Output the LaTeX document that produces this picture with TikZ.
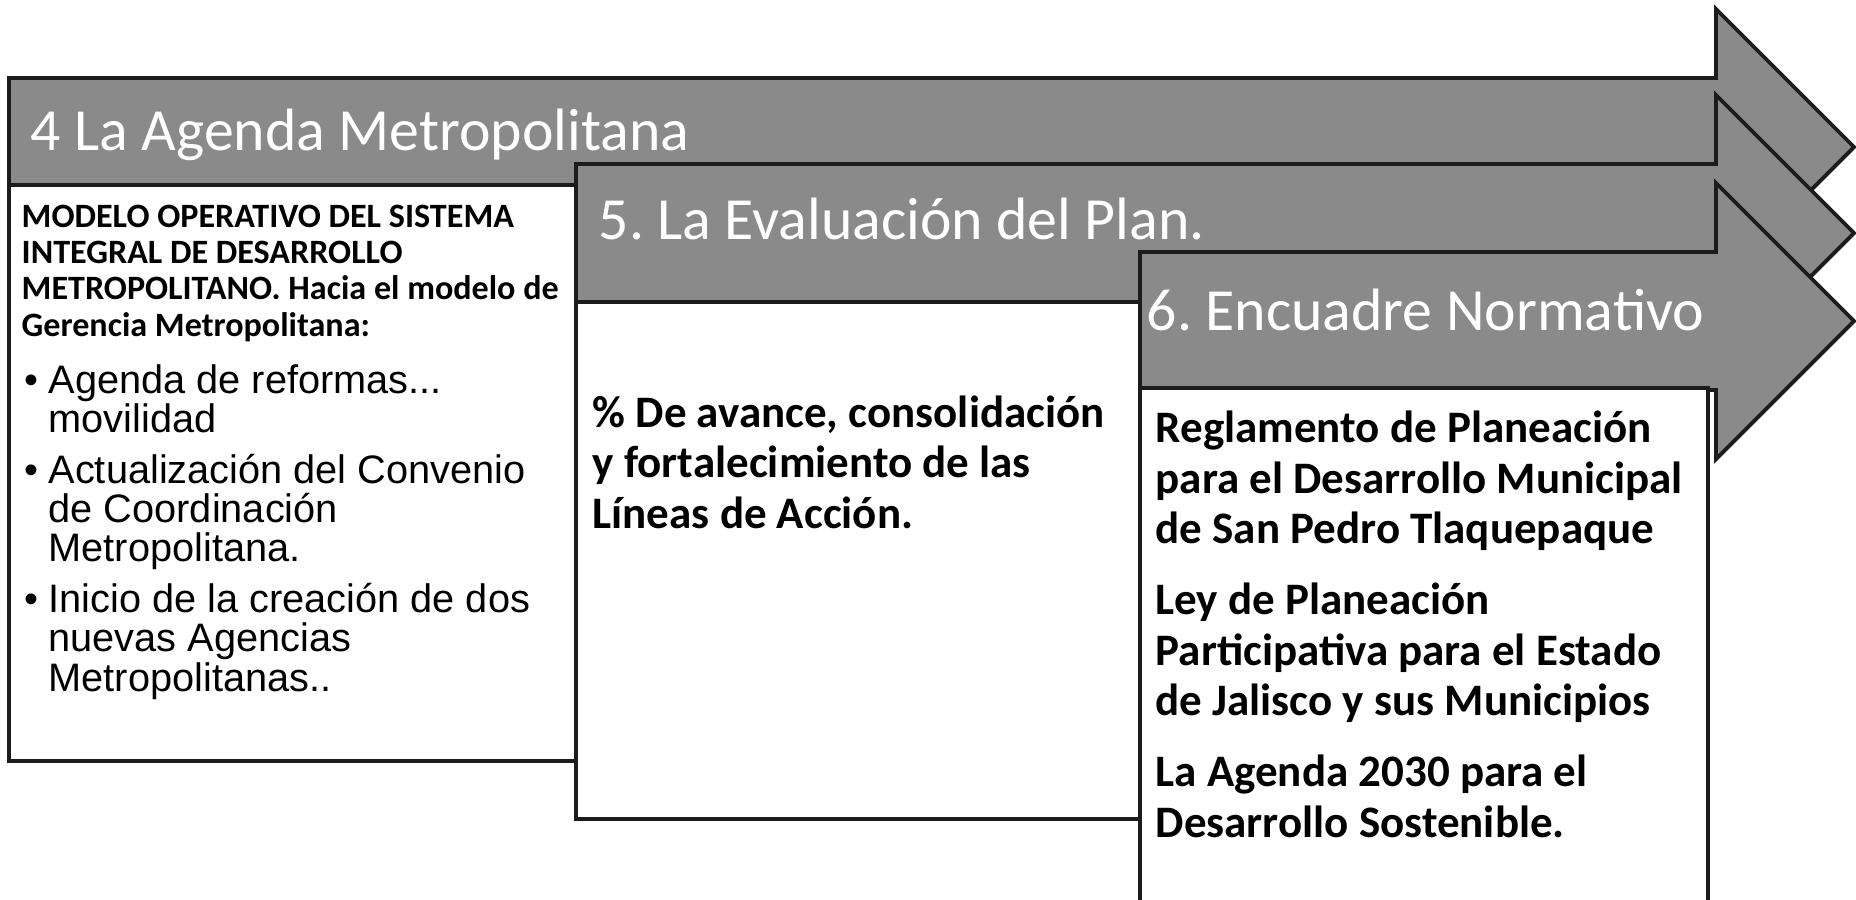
\documentclass[tikz,border=0pt]{standalone}
\usepackage{fontspec}
\setmainfont{Carlito}
\newfontfamily\arialfont{Liberation Sans}
\usetikzlibrary{positioning}
\frenchspacing
\definecolor{bandgray}{RGB}{138,138,138}
\definecolor{edgedark}{RGB}{28,28,28}
\tikzset{
  bandshape/.style={fill=bandgray, draw=edgedark, line width=1.1pt, line join=miter},
  panel/.style={fill=white, draw=edgedark, line width=1.1pt},
  headtxt/.style={white, font=\fontsize{17}{20}\selectfont, anchor=base west, inner sep=0pt},
  capstxt/.style={font=\bfseries\fontsize{9.7}{10.3}\selectfont, align=left, anchor=base west, inner sep=0pt},
  listtxt/.style={font=\arialfont\fontsize{11.3}{11.1}\selectfont, align=left, anchor=base west, inner sep=0pt},
  boldtxt/.style={font=\bfseries\fontsize{12.8}{14.3}\selectfont, align=left, anchor=base west, inner sep=0pt},
}
% one arrow of the staircase: #1 left end, #2 centre line
\newcommand{\steparrow}[2]{%
  \draw[bandshape] (#1,#2-69) -- (1716,#2-69) -- (1716,#2-138)
    -- (1854,#2) -- (1716,#2+138) -- (1716,#2+69) -- (#1,#2+69) -- cycle;
}
\newcommand{\bul}{\makebox[6.8pt][l]{\textbullet}}
\newcommand{\ind}{\hspace*{6.8pt}}

\begin{document}
\begin{tikzpicture}[x=0.01cm, y=-0.01cm]
  \useasboundingbox (0,0) rectangle (1856,899);
  \clip (0,0) rectangle (1856,899);
  % step 4 (text nodes sit on the baseline of their last line)
  \steparrow{9}{147}
  \draw[panel] (9,185) rectangle (576,761);
  \node[headtxt] (h4) at (30,150) {4 La Agenda Metropolitana};
  \node[capstxt] (t4) at (21,336)
    {MODELO OPERATIVO DEL SISTEMA\\
     INTEGRAL DE DESARROLLO\\
     METROPOLITANO. Hacia el modelo de\\
     Gerencia Metropolitana:};
  \node[listtxt] (l4) at (24,691)
    {\bul Agenda de reformas...\\
     \ind movilidad\\[3.5pt]
     \bul Actualización del Convenio\\
     \ind de Coordinación\\
     \ind Metropolitana.\\[3.5pt]
     \bul Inicio de la creación de dos\\
     \ind nuevas Agencias\\
     \ind Metropolitanas..};
  % step 5
  \steparrow{576}{233}
  \draw[panel] (576,302) rectangle (1140,819);
  \node[headtxt] (h5) at (598,239) {5. La Evaluación del Plan.};
  \node[boldtxt] (t5) at (592,528)
    {\% De avance, consolidación\\
     y fortalecimiento de las\\
     Líneas de Acción.};
  % step 6
  \steparrow{1140}{321}
  \draw[panel] (1140,388) rectangle (1708,960);
  \node[headtxt] (h6) at (1146,330) {6. Encuadre Normativo};
  \node[boldtxt] (t6) at (1155,837)
    {Reglamento de Planeación\\
     para el Desarrollo Municipal\\
     de San Pedro Tlaquepaque\\[6pt]
     Ley de Planeación\\
     Participativa para el Estado\\
     de Jalisco y sus Municipios\\[6pt]
     La Agenda 2030 para el\\
     Desarrollo Sostenible.};
\end{tikzpicture}
\end{document}
